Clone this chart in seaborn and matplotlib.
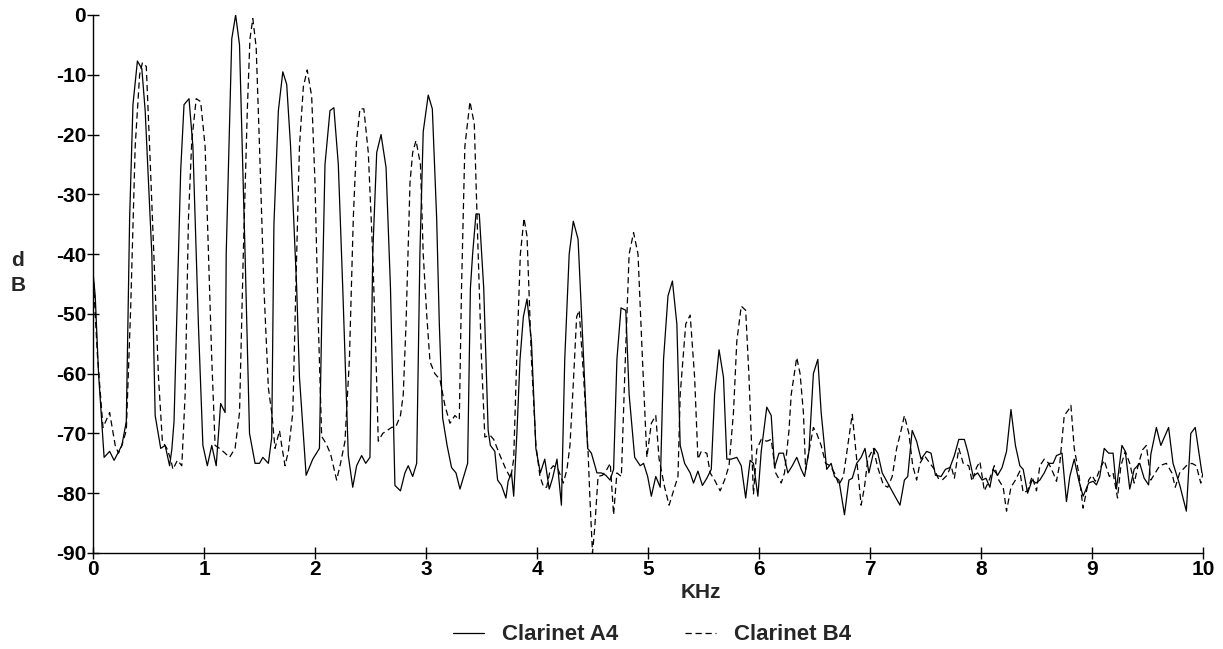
import pandas as pd
import matplotlib
matplotlib.use("Agg")
import matplotlib.pyplot as plt
import seaborn as sns

# nombres de las series
series_names = ["Clarinet A4", "Clarinet B4"]

# Clarinet A4 (linea continua): frecuencia en KHz, nivel en dB
freq_a4 = [0.00, 0.02, 0.05, 0.10, 0.15, 0.19, 0.26, 0.30, 0.33, 0.36, 0.40, 0.44, 0.47, 0.53, 0.56,
           0.61, 0.65, 0.69, 0.71, 0.73, 0.79, 0.82, 0.865, 0.90, 0.95, 0.99, 1.03, 1.07, 1.11, 1.15,
           1.19, 1.20, 1.25, 1.285, 1.32, 1.37, 1.41, 1.46, 1.50, 1.53, 1.58, 1.61, 1.63, 1.67, 1.71,
           1.745, 1.78, 1.835, 1.86, 1.92, 1.98, 2.04, 2.06, 2.09, 2.135, 2.17, 2.21, 2.25, 2.30, 2.34,
           2.375, 2.42, 2.457, 2.495, 2.52, 2.556, 2.595, 2.64, 2.68, 2.72, 2.77, 2.81, 2.84, 2.88,
           2.916, 2.945, 2.975, 3.02, 3.057, 3.096, 3.12, 3.15, 3.19, 3.23, 3.27, 3.306, 3.33, 3.375,
           3.40, 3.42, 3.45, 3.48, 3.52, 3.56, 3.58, 3.62, 3.645, 3.68, 3.72, 3.74, 3.77, 3.79, 3.82,
           3.847, 3.877, 3.91, 3.95, 3.99, 4.03, 4.07, 4.11, 4.14, 4.18, 4.22, 4.25, 4.29, 4.327, 4.37,
           4.42, 4.456, 4.49, 4.54, 4.58, 4.62, 4.658, 4.69, 4.72, 4.757, 4.80, 4.83, 4.88, 4.93, 4.96,
           4.997, 5.03, 5.07, 5.11, 5.14, 5.18, 5.22, 5.26, 5.29, 5.33, 5.38, 5.41, 5.45, 5.49, 5.53,
           5.57, 5.60, 5.64, 5.68, 5.71, 5.75, 5.80, 5.84, 5.88, 5.92, 5.95, 5.99, 6.02, 6.07, 6.11,
           6.14, 6.18, 6.22, 6.26, 6.30, 6.34, 6.38, 6.41, 6.45, 6.49, 6.53, 6.56, 6.61, 6.65, 6.68,
           6.72, 6.77, 6.81, 6.84, 6.88, 6.92, 6.955, 6.99, 7.04, 7.07, 7.11, 7.16, 7.21, 7.27, 7.31,
           7.34, 7.38, 7.42, 7.46, 7.51, 7.55, 7.59, 7.64, 7.68, 7.72, 7.76, 7.80, 7.85, 7.88, 7.93,
           7.97, 8.01, 8.045, 8.08, 8.11, 8.15, 8.19, 8.23, 8.27, 8.31, 8.35, 8.38, 8.42, 8.46, 8.495,
           8.53, 8.57, 8.61, 8.65, 8.68, 8.73, 8.77, 8.80, 8.84, 8.88, 8.92, 8.97, 9.01, 9.04, 9.07,
           9.11, 9.15, 9.19, 9.22, 9.27, 9.30, 9.34, 9.38, 9.43, 9.47, 9.51, 9.53, 9.58, 9.62, 9.69,
           9.73, 9.79, 9.85, 9.89, 9.93, 9.99]
db_a4 = [-43, -47, -60, -74, -73, -74.5, -72, -68, -34, -15, -7.7, -9, -16, -40, -67,
         -72.5, -72, -75.4, -72.7, -68, -26, -15, -14, -22, -52, -72, -75.4, -72, -75.4, -65,
         -66.5, -40, -4, 0, -5, -40, -70, -75, -75, -74, -75, -70.7, -35, -16, -9.5,
         -11.6, -22, -45.7, -60.6, -77, -74.3, -72.5, -51.7, -25, -16, -15.5, -25, -45.7, -73.7, -79,
         -75.4, -73.7, -75, -74, -40, -23, -20, -25.5, -45.7, -78.7, -79.6, -76.6, -75.4, -77.2,
         -75, -40, -19.5, -13.4, -15.7, -34, -51.7, -67.4, -72, -75.7, -76.6, -79.3, -77.8, -75,
         -45.7, -40, -33.3, -33.3, -45.7, -69.5, -72, -73, -77.8, -78.7, -80.8, -78, -76.6, -80.5, -69.5,
         -57.6, -50.5, -47.5, -54.6, -72.5, -76.6, -74.3, -79.3, -77.5, -74.3, -82, -57.6, -40, -34.5, -37.5,
         -57.6, -72.5, -73.3, -76.6, -76.6, -77, -77.8, -76, -57.6, -49, -49.4, -63.5, -74, -75.4, -75,
         -77.2, -80.5, -77.2, -79, -57.6, -47, -44.5, -51.7, -72, -75, -76.6, -78.3, -76.3, -78.7, -77.5,
         -76, -63.5, -56, -60.6, -74.3, -74.3, -74, -75.4, -80.8, -74.5, -75, -80.5, -73, -65.6, -67,
         -75.7, -73.3, -73.3, -76.6, -75.4, -74, -76, -77.2, -73, -60, -57.6, -66.5, -76, -75, -77.2,
         -77.8, -83.6, -77.8, -77.5, -75, -74, -72.5, -76.6, -72.5, -73.3, -76.6, -78.3, -80, -82, -77.8,
         -77.2, -69.5, -71.3, -74.3, -73, -73.3, -77, -77.2, -76, -75.7, -73.7, -71, -71, -73, -77.2,
         -76.6, -77.8, -77.5, -79, -76, -77, -75.7, -73, -66, -72, -75.4, -76, -80, -77.8, -78.3,
         -77.8, -76.6, -75, -75, -73.7, -73.3, -81.4, -77.2, -74.3, -77.8, -80.5, -78.3, -78, -78.6, -77.2,
         -72.5, -73.3, -73.3, -79.3, -72, -73, -79.3, -76, -75, -77.5, -78.6, -73.5, -69, -72, -69,
         -75, -78.6, -83, -70, -69, -76.6]

# Clarinet B4 (linea discontinua)
freq_b4 = [0.00, 0.02, 0.04, 0.09, 0.15, 0.20, 0.23, 0.26, 0.30, 0.34, 0.38, 0.42, 0.445, 0.48, 0.51,
           0.56, 0.59, 0.625, 0.665, 0.70, 0.72, 0.76, 0.80, 0.83, 0.86, 0.89, 0.93, 0.97, 1.01, 1.04,
           1.07, 1.10, 1.14, 1.19, 1.23, 1.28, 1.32, 1.354, 1.39, 1.414, 1.44, 1.47, 1.50, 1.54, 1.58,
           1.61, 1.64, 1.68, 1.70, 1.73, 1.76, 1.80, 1.835, 1.86, 1.895, 1.93, 1.97, 2.00, 2.03, 2.06,
           2.10, 2.14, 2.195, 2.23, 2.27, 2.31, 2.345, 2.375, 2.405, 2.44, 2.48, 2.52, 2.55, 2.57, 2.61,
           2.65, 2.69, 2.73, 2.77, 2.795, 2.82, 2.856, 2.88, 2.91, 2.95, 2.975, 3.006, 3.036, 3.08, 3.126,
           3.17, 3.216, 3.26, 3.30, 3.32, 3.35, 3.396, 3.435, 3.47, 3.50, 3.53, 3.577, 3.61, 3.667, 3.72,
           3.763, 3.79, 3.817, 3.85, 3.883, 3.91, 3.95, 3.99, 4.027, 4.06, 4.087, 4.12, 4.147, 4.19, 4.237,
           4.27, 4.297, 4.33, 4.357, 4.38, 4.42, 4.46, 4.477, 4.50, 4.52, 4.55, 4.59, 4.63, 4.66, 4.69,
           4.72, 4.76, 4.79, 4.83, 4.87, 4.91, 4.95, 4.99, 5.03, 5.07, 5.10, 5.15, 5.19, 5.24, 5.27,
           5.29, 5.34, 5.38, 5.42, 5.45, 5.48, 5.53, 5.56, 5.60, 5.65, 5.69, 5.73, 5.77, 5.80, 5.84,
           5.88, 5.91, 5.95, 5.98, 6.02, 6.07, 6.11, 6.15, 6.20, 6.23, 6.27, 6.29, 6.34, 6.37, 6.40,
           6.42, 6.45, 6.49, 6.52, 6.56, 6.60, 6.64, 6.68, 6.72, 6.76, 6.80, 6.84, 6.88, 6.92, 6.95,
           6.98, 7.03, 7.07, 7.12, 7.16, 7.20, 7.24, 7.28, 7.31, 7.35, 7.385, 7.42, 7.45, 7.49, 7.54,
           7.58, 7.615, 7.65, 7.695, 7.73, 7.76, 7.80, 7.84, 7.89, 7.92, 7.96, 7.99, 8.03, 8.07, 8.12,
           8.16, 8.20, 8.23, 8.27, 8.31, 8.35, 8.38, 8.42, 8.46, 8.50, 8.53, 8.57, 8.61, 8.65, 8.68,
           8.71, 8.75, 8.79, 8.81, 8.84, 8.88, 8.92, 8.97, 9.00, 9.03, 9.07, 9.11, 9.156, 9.19, 9.23,
           9.26, 9.30, 9.34, 9.38, 9.42, 9.457, 9.49, 9.53, 9.57, 9.61, 9.67, 9.72, 9.75, 9.79, 9.85,
           9.90, 9.94, 9.98, 10.0]
db_b4 = [-43, -50, -57, -69, -66.5, -72, -73.3, -72, -69.5, -48.7, -22, -10, -8, -8.6, -22,
         -45.7, -60.6, -71.3, -72.5, -74.3, -76, -74.5, -75.4, -63.5, -34, -21, -14, -14.5, -22, -40,
         -57.6, -72, -72.5, -73.3, -74, -72.5, -66.5, -40, -16, -4, -0.6, -5.4, -22, -45.7, -62.4,
         -66.5, -72.5, -69.5, -72, -75.4, -73, -66.5, -40, -22, -12, -9.2, -13.6, -28, -51.7, -70.5,
         -71.7, -73.4, -77.8, -75, -71.3, -57.6, -34, -21, -15.7, -15.7, -23, -40, -57.6, -71.3, -70,
         -69.5, -69, -68.8, -67, -63.5, -51.7, -28, -23, -21, -25, -40, -50, -58, -60, -61,
         -65.3, -68.3, -67, -67.7, -45.7, -22, -14.5, -18.2, -40, -57.6, -70.6, -70.3, -71, -73.7, -76,
         -77.5, -74.3, -57.6, -40, -34, -37, -57.6, -72, -77.2, -79, -79, -76, -75.4, -76, -78.3,
         -76, -72, -60.6, -50.5, -49.4, -60.6, -73, -81, -90, -85.8, -77.2, -77, -76, -75, -83.6,
         -76.6, -77.2, -60.6, -40, -36.4, -40, -57.6, -74, -68.3, -67, -74.3, -79, -82, -79, -77.2,
         -63.5, -51.7, -50.2, -60.6, -74.3, -73, -73.3, -76.6, -77.8, -79.6, -77.8, -75.4, -66.5, -54.6, -48.7,
         -49.4, -60.6, -80.2, -72.7, -71, -71.3, -71, -76.6, -78.3, -76.6, -69.5, -63.5, -57.3, -60, -66.5,
         -76, -73, -69, -70, -72, -75, -75.4, -76.6, -78.6, -77.2, -72, -66.8, -74.3, -82, -79,
         -74.3, -72.5, -75.7, -78.6, -79, -77.2, -72.5, -69.5, -67, -70, -75.4, -77.8, -75, -73.7, -75,
         -76, -77.5, -77.8, -77, -75.4, -77.5, -72.5, -75, -75.4, -78, -75.7, -74.7, -79.6, -78, -75.4,
         -77.8, -79, -83, -79, -77.8, -76.3, -79.9, -79.6, -77.2, -79.6, -75.4, -74.3, -75, -76.6, -78,
         -75, -67, -66, -65.3, -72.5, -76.6, -82.5, -77.8, -77, -78, -76, -74.5, -77.2, -76.6, -80.8,
         -75.4, -73, -75, -78.3, -75, -72.7, -72, -77.8, -76.6, -75.4, -75, -76.6, -79, -76.6, -75.4,
         -75, -75.4, -78.3, -76.6]

x_ticks = list(range(0, 11))
y_ticks = list(range(0, -100, -10))

sns.set_style("ticks")
plt.rcParams['font.family'] = ['Liberation Sans', 'DejaVu Sans']
plt.rcParams['axes.unicode_minus'] = False

W, H = 1223, 649
fig = plt.figure(figsize=(W / 100, H / 100), dpi=100)
ax = fig.add_axes([93 / W, 1 - 553 / H, 1110 / W, 538 / H])

df_a4 = pd.DataFrame({"KHz": freq_a4, "dB": db_a4})
df_b4 = pd.DataFrame({"KHz": freq_b4, "dB": db_b4})

sns.lineplot(data=df_a4, x="KHz", y="dB", ax=ax, color="black", lw=0.9,
             estimator=None, label=series_names[0])
sns.lineplot(data=df_b4, x="KHz", y="dB", ax=ax, color="black", lw=0.9,
             estimator=None, linestyle="--", label=series_names[1])
ax.lines[-1].set_dashes([5, 3])

ax.set_xlim(0, 10)
ax.set_ylim(-90, 0)
ax.set_xticks(x_ticks)
ax.set_yticks(y_ticks)
ax.set_xticklabels([str(t) for t in x_ticks], fontweight="bold")
ax.set_yticklabels([str(t) for t in y_ticks], fontweight="bold")
ax.set_xlabel("")
ax.set_ylabel("")
ax.tick_params(direction="inout", length=8, width=1, colors="black",
               labelsize=15, pad=1)
sns.despine(ax=ax)
for s in ["left", "bottom"]:
    ax.spines[s].set_color("black")
    ax.spines[s].set_linewidth(1)

fig.text(701 / W, 1 - 592 / H, "KHz", ha="center", va="center",
         fontsize=15, fontweight="bold")
fig.text(18 / W, 1 - 273 / H, "d\nB", ha="center", va="center",
         fontsize=15, fontweight="bold", linespacing=1.4)

handles, labels = ax.get_legend_handles_labels()
ax.get_legend().remove()
fig.legend(handles, labels, loc="center", bbox_to_anchor=(652 / W, 1 - 635 / H),
           ncol=2, frameon=False, handlelength=1.4, handletextpad=0.8,
           columnspacing=3.0, prop={"size": 16, "weight": "bold"})

fig.savefig("out.png", dpi=100)
